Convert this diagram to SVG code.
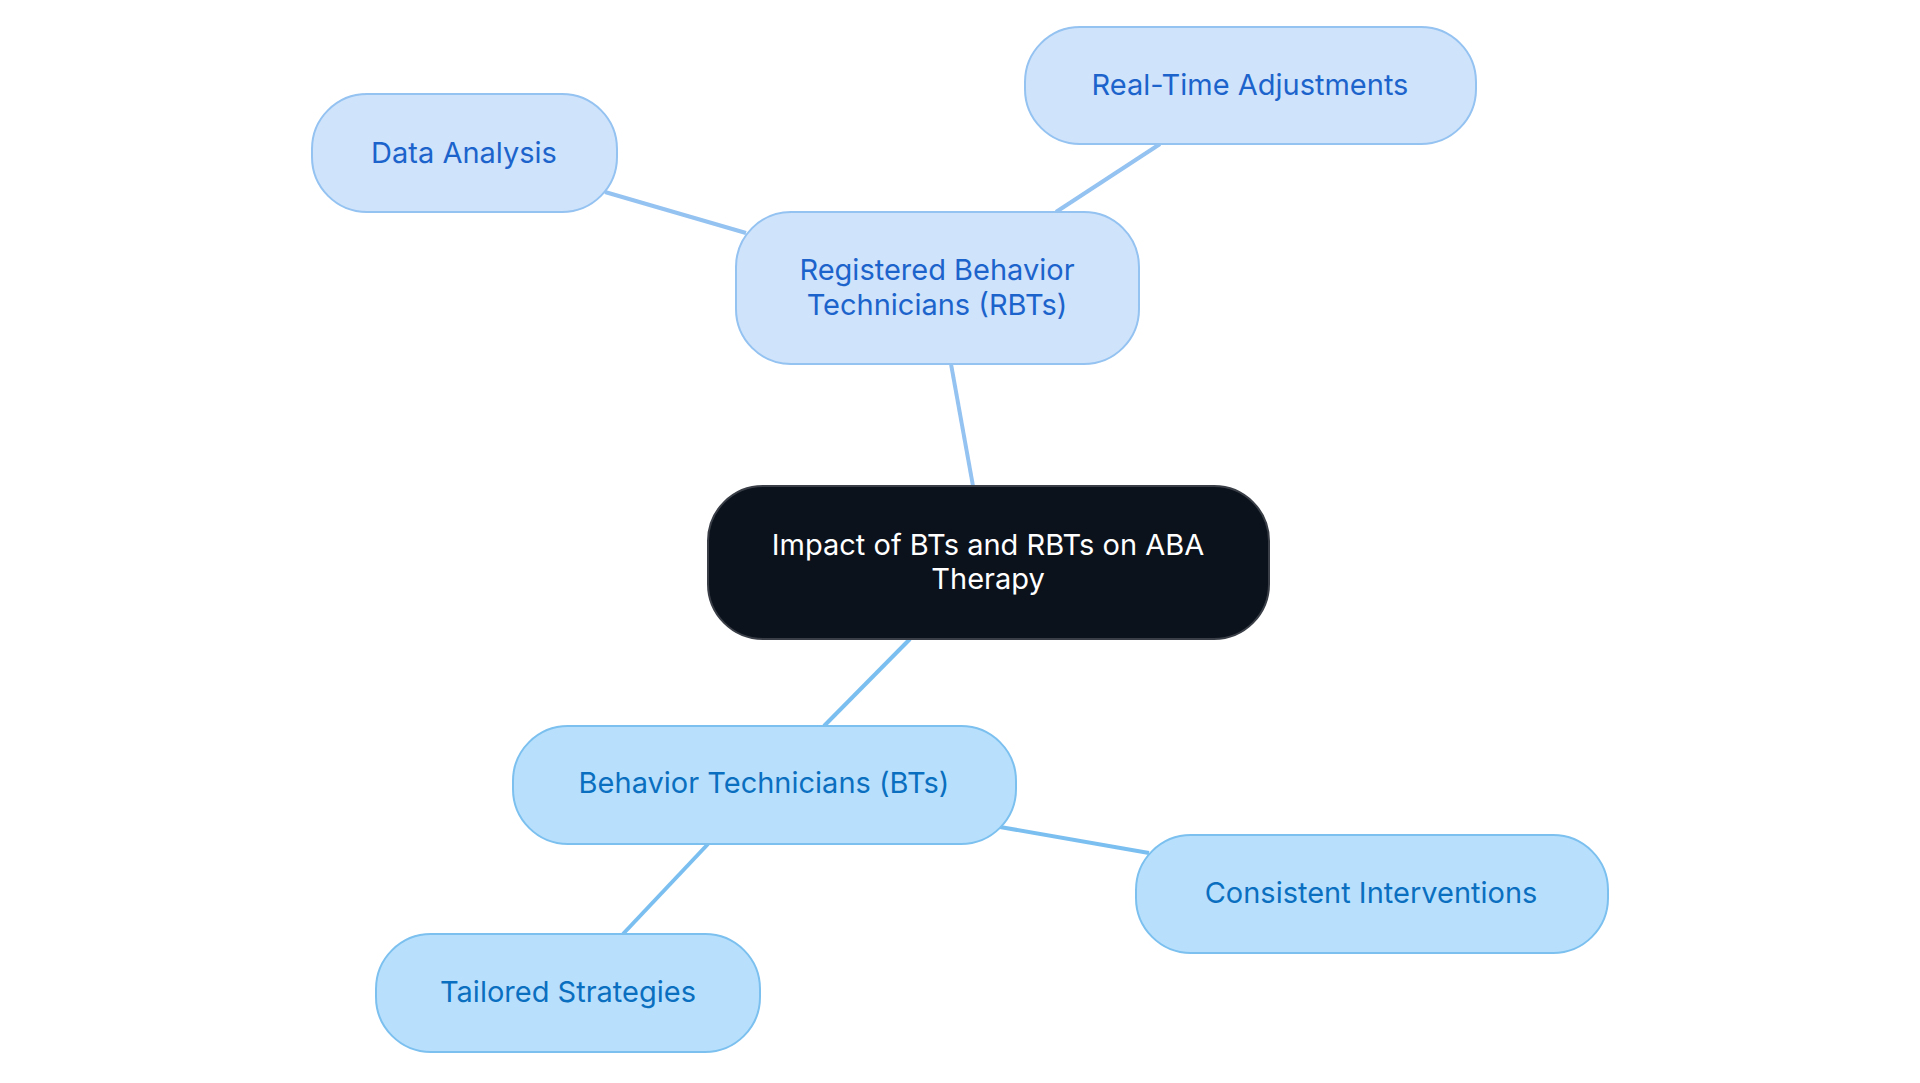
<svg xmlns="http://www.w3.org/2000/svg" width="1920" height="1083" viewBox="0 0 1920 1083">
<style>
text{font-family:Inter,"Noto Sans","Liberation Sans",sans-serif;font-size:29px;text-anchor:middle;dominant-baseline:central}
.r rect{fill:#cfe3fb;stroke:#94c2f1;stroke-width:2}
.r text{fill:#1c63cc}
.b rect{fill:#b8e0fd;stroke:#7cc0ef;stroke-width:2}
.b text{fill:#0b6fc0}
.er{stroke:#94c2f1;stroke-width:4}
.eb{stroke:#7bbff0;stroke-width:4}
</style>
<rect width="1920" height="1083" fill="#fff"/>
<g id="connectors">
<line class="er" x1="951" y1="364" x2="973" y2="486"/>
<line class="er" x1="605" y1="192" x2="746" y2="233"/>
<line class="er" x1="1160" y1="144" x2="1056" y2="212"/>
<line class="eb" x1="910" y1="639" x2="824" y2="726"/>
<line class="eb" x1="1000" y1="827" x2="1149" y2="853"/>
<line class="eb" x1="708" y1="844" x2="623" y2="934"/>
</g>
<g id="center"><rect x="708" y="486" width="561" height="153" rx="55" fill="#0c121c" stroke="#3a3f47" stroke-width="2"/>
<text x="988" y="544" fill="#fff">Impact of BTs and RBTs on ABA</text><text x="988" y="578" fill="#fff">Therapy</text></g>
<g id="rbt" class="r"><rect x="736" y="212" width="403" height="152" rx="55"/><text x="937" y="269">Registered Behavior</text><text x="937" y="304">Technicians (RBTs)</text></g>
<g id="data" class="r"><rect x="312" y="94" width="305" height="118" rx="55"/><text x="464" y="152">Data Analysis</text></g>
<g id="realtime" class="r"><rect x="1025" y="27" width="451" height="117" rx="55"/><text x="1250" y="84">Real-Time Adjustments</text></g>
<g id="bt" class="b"><rect x="513" y="726" width="503" height="118" rx="55"/><text x="764" y="782">Behavior Technicians (BTs)</text></g>
<g id="consistent" class="b"><rect x="1136" y="835" width="472" height="118" rx="55"/><text x="1371" y="892">Consistent Interventions</text></g>
<g id="tailored" class="b"><rect x="376" y="934" width="384" height="118" rx="55"/><text x="568" y="991">Tailored Strategies</text></g>
</svg>
